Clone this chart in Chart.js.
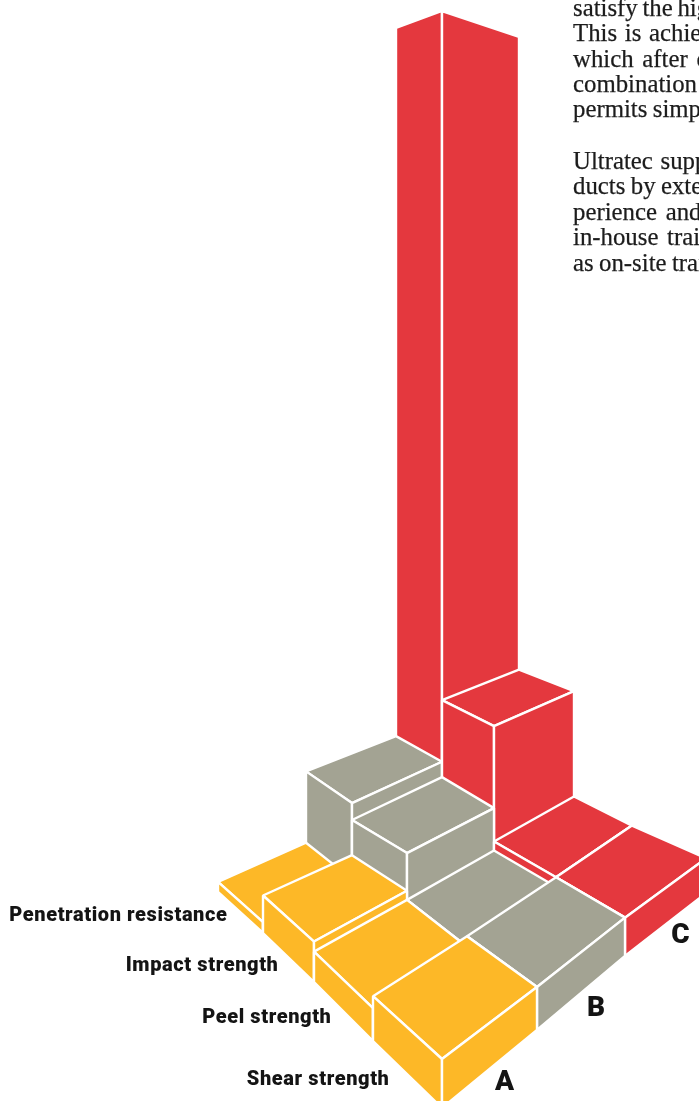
<!DOCTYPE html>
<html><head><meta charset="utf-8">
<style>
html,body{margin:0;padding:0;background:#fff;overflow:hidden}
#wrap{position:relative;width:699px;height:1101px;overflow:hidden}
canvas{position:absolute;left:0;top:0}
.p{position:absolute;left:573px;white-space:nowrap;font:24.8px/25px "Liberation Serif",serif;color:#1c1c1c;-webkit-text-stroke:.25px #1c1c1c}
</style>
</head><body>
<div id="wrap"><canvas id="c" width="699" height="1101"></canvas></div>
<script src="https://cdn.jsdelivr.net/npm/chart.js@4/dist/chart.umd.min.js"></script>
<script>
// ---- data ----
const categories = ['Shear strength','Peel strength','Impact strength','Penetration resistance'];
const seriesNames = ['A','B','C'];
const seriesA = [49,36,48,14];
const seriesB = [49,36,98,122];
const seriesC = [49,49,218,1292];
const seriesColors = ['#FDB827','#A3A393','#E4383E'];
const proseLines = [
  ['satisfy the high',-1.5,-5],['This is achieved',1.5,20],['which after curing',2.5,46],['combination of',0,71],['permits simple',-.8,96],
  ['Ultratec supplies',1.5,148],['ducts by extensive',-.8,173],['perience and',2.5,199],['in-house training',2.5,224],['as on-site training',-.8,250]
];
// ---- projection: hand-drawn floor grid (axis calibration) ----
const floorX = [[442,537,625,706],[373,467,556,632],[314,407,494,574],[263,352,442,519],[218,306,396,470]];
const floorY = [[1108,1030,956,893],[1041,976,913,858],[982,927,875,827],[933,889,840,798],[892,852,810,772]];
const depth = (u,v) => 1/(1+0.139*u+0.0935*v);
const pt = (u,v,h) => ({x:floorX[v][u], y:floorY[v][u]-h*depth(u,v)});

const values = [seriesA,seriesB,seriesC];
const painted = [];
function face(points,color){
  painted.push({data:[...points,points[0]],showLine:true,fill:'shape',backgroundColor:color,borderColor:'#fff',
    borderWidth:2.4,pointRadius:0,pointHoverRadius:0,tension:0,borderJoinStyle:'bevel'});
}
for(let v=categories.length-1;v>=0;v--){
  for(let u=seriesNames.length-1;u>=0;u--){
    const h=values[u][v], col=seriesColors[u];
    face([pt(u,v,h),pt(u+1,v,h),pt(u+1,v+1,h),pt(u,v+1,h)],col);
    face([pt(u,v,0),pt(u,v+1,0),pt(u,v+1,h),pt(u,v,h)],col);
    face([pt(u,v,0),pt(u+1,v,0),pt(u+1,v,h),pt(u,v,h)],col);
  }
}
const rowLabelOffset=[[-18,10],[-12,11],[-10,13],[-13,8]];
const colLabelOffset=[[15,21],[15,23],[15,18]];
const labelPlugin={id:'labels',afterDatasetsDraw(chart){
  const ctx=chart.ctx,sx=chart.scales.x,sy=chart.scales.y;
  ctx.save();ctx.fillStyle='#141414';ctx.textBaseline='alphabetic';
  ctx.font='900 20px Roboto';ctx.textAlign='right';ctx.letterSpacing='0.6px';
  categories.forEach((c,v)=>{
    const mx=(floorX[v][0]+floorX[v+1][0])/2,my=(floorY[v][0]+floorY[v+1][0])/2;
    const x=sx.getPixelForValue(mx+rowLabelOffset[v][0]),y=sy.getPixelForValue(my+rowLabelOffset[v][1]);
    ctx.fillText(c,x,y);
  });
  ctx.font='900 28px Roboto';ctx.textAlign='center';ctx.letterSpacing='0px';
  seriesNames.forEach((s,u)=>{
    const mx=(floorX[0][u]+floorX[0][u+1])/2,my=(floorY[0][u]+floorY[0][u+1])/2;
    const x=sx.getPixelForValue(mx+colLabelOffset[u][0]),y=sy.getPixelForValue(my+colLabelOffset[u][1]);
    ctx.fillText(s,x,y);
  });
  ctx.restore();
}};
new Chart(document.getElementById('c'),{
  type:'scatter',
  data:{datasets:painted.reverse()},
  options:{responsive:false,animation:false,events:[],layout:{padding:0},
    plugins:{legend:{display:false},tooltip:{enabled:false},title:{display:false}},
    scales:{x:{type:'linear',display:false,min:0,max:699},y:{type:'linear',display:false,min:0,max:1101,reverse:true}}},
  plugins:[labelPlugin]
});
const wrap=document.getElementById('wrap');
proseLines.forEach(([t,ws,top])=>{
  const d=document.createElement('div');d.className='p';d.textContent=t;d.style.top=top+'px';d.style.wordSpacing=ws+'px';wrap.appendChild(d);
});
</script>
</body></html>
